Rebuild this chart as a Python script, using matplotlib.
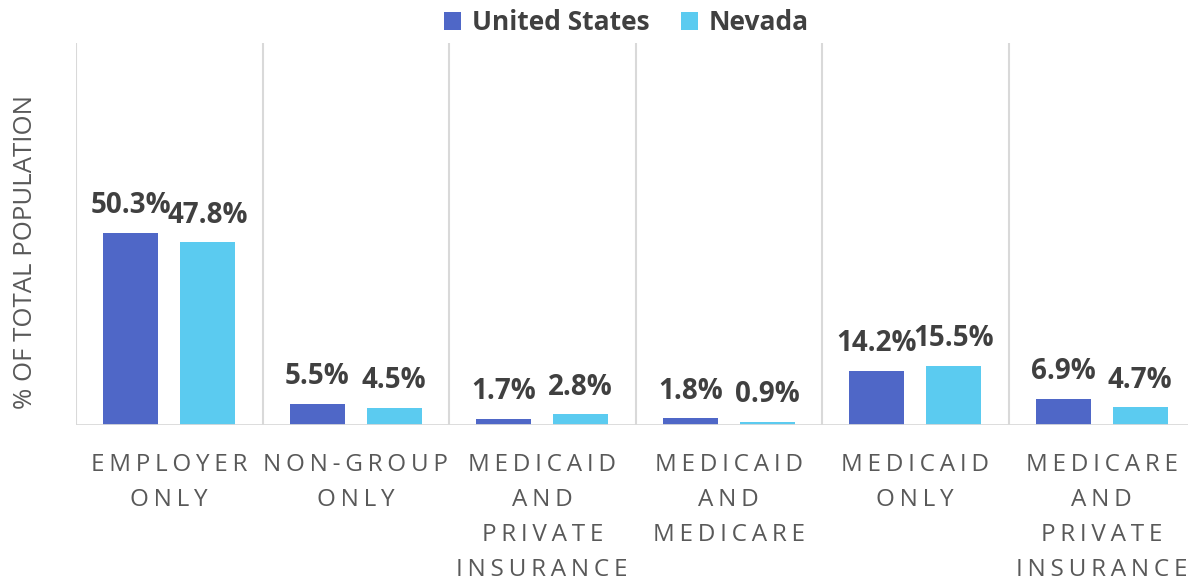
import matplotlib
matplotlib.use('Agg')
import matplotlib.pyplot as plt
import numpy as np

plt.rcParams['font.family'] = ['Open Sans', 'DejaVu Sans']

categories = ['EMPLOYER\nONLY', 'NON-GROUP\nONLY', 'MEDICAID\nAND\nPRIVATE\nINSURANCE',
              'MEDICAID\nAND\nMEDICARE', 'MEDICAID\nONLY', 'MEDICARE\nAND\nPRIVATE\nINSURANCE']
us = [50.3, 5.5, 1.7, 1.8, 14.2, 6.9]
nevada = [47.8, 4.5, 2.8, 0.9, 15.5, 4.7]
series_names = ['United States', 'Nevada']
colors = ['#4F67C7', '#5BCBF0']


def spaced(s, sp='\u200a\u200a'):
    # widen letters a little, line by line
    return '\n'.join(sp.join(list(line)) for line in s.split('\n'))


fig = plt.figure(figsize=(11.88, 5.81), dpi=100)
ax = fig.add_axes([76/1188, 1 - 425/581, 1119/1188, 382/581])

x = np.arange(len(categories))
w = 0.295
off = 0.206
b1 = ax.bar(x - off, us, w, color=colors[0], label=series_names[0])
b2 = ax.bar(x + off, nevada, w, color=colors[1], label=series_names[1])

for bars, vals in [(b1, us), (b2, nevada)]:
    for r, v in zip(bars, vals):
        ax.annotate('%.1f%%' % v, (r.get_x() + r.get_width()/2, v),
                    xytext=(0, 9), textcoords='offset points',
                    ha='center', va='bottom', fontsize=20, fontweight='bold',
                    color='#404040')

ax.set_xlim(-0.5, len(categories) - 0.5)
ax.set_ylim(0, 100)

# category separators and baseline
for i in range(len(categories) + 1):
    ax.axvline(i - 0.5, color='#D9D9D9', lw=1.5, zorder=0)
ax.axhline(0, color='#D9D9D9', lw=2, zorder=3)

for s in ax.spines.values():
    s.set_visible(False)
ax.set_yticks([])
ax.set_xticks(x)
ax.set_xticklabels([spaced(c) for c in categories], fontsize=17.5, color='#595959',
                   linespacing=1.62, va='top')
ax.tick_params(axis='x', length=0, pad=20)

ax.set_ylabel('% OF TOTAL POPULATION', fontsize=18.5, color='#595959')
ax.yaxis.set_label_coords(-0.034, 0.453)

leg = ax.legend(loc='center', bbox_to_anchor=(0.492, 1.0 + 20/382), ncol=2, frameon=False,
                prop={'size': 19, 'weight': 'bold'}, handlelength=0.65, handleheight=0.65,
                handletextpad=0.4, columnspacing=1.2)
for t in leg.get_texts():
    t.set_color('#404040')

fig.savefig('out.png', dpi=100)
